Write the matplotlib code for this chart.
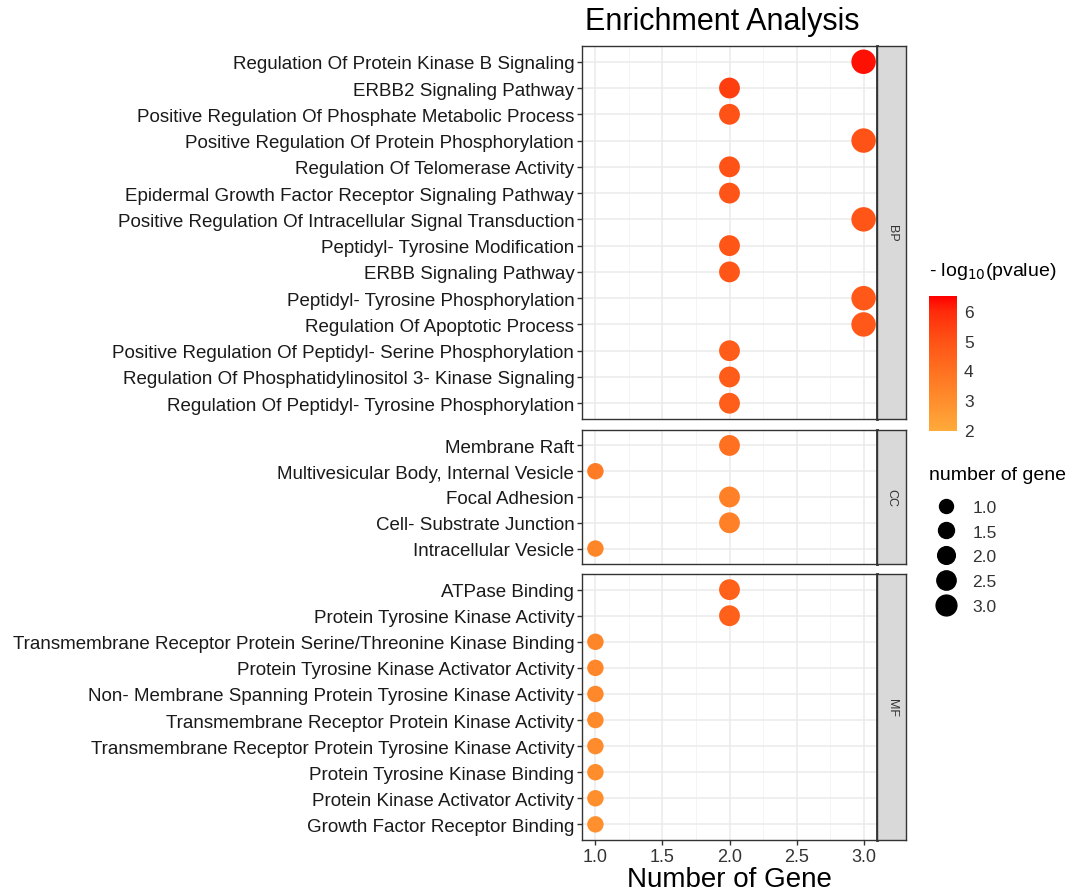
import numpy as np
import matplotlib.pyplot as plt
from matplotlib.colors import LinearSegmentedColormap, Normalize
from matplotlib.lines import Line2D

plt.rcParams["font.family"] = ["Liberation Sans", "DejaVu Sans"]

# data, top to bottom within each panel
bp_terms = [
    "Regulation Of Protein Kinase B Signaling",
    "ERBB2 Signaling Pathway",
    "Positive Regulation Of Phosphate Metabolic Process",
    "Positive Regulation Of Protein Phosphorylation",
    "Regulation Of Telomerase Activity",
    "Epidermal Growth Factor Receptor Signaling Pathway",
    "Positive Regulation Of Intracellular Signal Transduction",
    "Peptidyl- Tyrosine Modification",
    "ERBB Signaling Pathway",
    "Peptidyl- Tyrosine Phosphorylation",
    "Regulation Of Apoptotic Process",
    "Positive Regulation Of Peptidyl- Serine Phosphorylation",
    "Regulation Of Phosphatidylinositol 3- Kinase Signaling",
    "Regulation Of Peptidyl- Tyrosine Phosphorylation",
]
bp_count = [3, 2, 2, 3, 2, 2, 3, 2, 2, 3, 3, 2, 2, 2]
bp_logp = [6.3, 5.5, 5.0, 5.0, 5.0, 4.95, 4.9, 4.9, 4.85, 4.8, 4.8, 4.7, 4.7, 4.65]

cc_terms = [
    "Membrane Raft",
    "Multivesicular Body, Internal Vesicle",
    "Focal Adhesion",
    "Cell- Substrate Junction",
    "Intracellular Vesicle",
]
cc_count = [2, 1, 2, 2, 1]
cc_logp = [4.0, 3.6, 3.45, 3.45, 3.3]

mf_terms = [
    "ATPase Binding",
    "Protein Tyrosine Kinase Activity",
    "Transmembrane Receptor Protein Serine/Threonine Kinase Binding",
    "Protein Tyrosine Kinase Activator Activity",
    "Non- Membrane Spanning Protein Tyrosine Kinase Activity",
    "Transmembrane Receptor Protein Kinase Activity",
    "Transmembrane Receptor Protein Tyrosine Kinase Activity",
    "Protein Tyrosine Kinase Binding",
    "Protein Kinase Activator Activity",
    "Growth Factor Receptor Binding",
]
mf_count = [2, 2, 1, 1, 1, 1, 1, 1, 1, 1]
mf_logp = [4.5, 4.5, 3.3, 3.2, 3.15, 3.1, 3.05, 3.0, 2.95, 2.9]

panels = [("BP", bp_terms, bp_count, bp_logp),
          ("CC", cc_terms, cc_count, cc_logp),
          ("MF", mf_terms, mf_count, mf_logp)]

size_breaks = [1.0, 1.5, 2.0, 2.5, 3.0]
cbar_ticks = [2, 3, 4, 5, 6]

vmin, vmax = 1.95, 6.5
stops = [(1.95, "#FFAA3A"), (3.0, "#FF8D2C"), (4.0, "#FF7020"),
         (5.0, "#FF5216"), (6.0, "#FF2A0A"), (6.5, "#FF0000")]
cmap = LinearSegmentedColormap.from_list(
    "pv", [((v - vmin) / (vmax - vmin), c) for v, c in stops])
norm = Normalize(vmin=vmin, vmax=vmax)


def dot_size(n):
    n = np.asarray(n, dtype=float)
    return 140 + (n - 1) / 2 * 170


W, H = 1086, 895
fig = plt.figure(figsize=(W / 100, H / 100), dpi=100)

# panel pixel extents (top, bottom)
extents = [(47, 420), (431, 565), (575, 841)]
left, right, strip_r = 582, 877, 906

for (name, terms, cnt, lp), (top, bot) in zip(panels, extents):
    ax = fig.add_axes([left / W, 1 - bot / H, (right - left) / W, (bot - top) / H])
    y = np.arange(len(terms))[::-1]
    ax.scatter(cnt, y, s=dot_size(cnt), c=lp, cmap=cmap, norm=norm,
               linewidths=0, zorder=3)
    ax.set_xlim(0.9, 3.1)
    ax.set_ylim(-0.6, len(terms) - 0.4)
    ax.set_yticks(y)
    ax.set_yticklabels(terms, fontsize=13.5, color="#1a1a1a")
    ax.set_xticks([1.0, 1.5, 2.0, 2.5, 3.0])
    ax.set_xticks([1.25, 1.75, 2.25, 2.75], minor=True)
    ax.grid(True, which="major", color="#EBEBEB", lw=1.1, zorder=0)
    ax.grid(True, which="minor", axis="x", color="#F2F2F2", lw=0.6, zorder=0)
    ax.set_axisbelow(True)
    ax.tick_params(axis="both", which="major", length=3.5, width=1, color="#333333",
                   pad=2)
    ax.tick_params(axis="x", which="minor", length=0)
    for sp in ax.spines.values():
        sp.set_color("#333333")
        sp.set_linewidth(1.0)
    ax.spines["right"].set_linewidth(2.0)
    if name != "MF":
        ax.set_xticklabels([])
        ax.tick_params(axis="x", length=0)
    else:
        ax.set_xticklabels(["1.0", "1.5", "2.0", "2.5", "3.0"], fontsize=13,
                           color="#333333")
        ax.set_xlabel("Number of Gene", fontsize=20, labelpad=1)

    sax = fig.add_axes([right / W, 1 - bot / H, (strip_r - right) / W, (bot - top) / H])
    sax.set_facecolor("#D9D9D9")
    sax.set_xticks([])
    sax.set_yticks([])
    for sp in sax.spines.values():
        sp.set_color("#333333")
        sp.set_linewidth(1.0)
    sax.text(0.5, 0.5, name, rotation=-90, ha="center", va="center",
             fontsize=9, color="#333333", transform=sax.transAxes)

fig.text(722 / W, 1 - 22 / H, "Enrichment Analysis", ha="center", va="center",
         fontsize=22)

# colour bar
cax = fig.add_axes([929 / W, 1 - 432 / H, 28 / W, 135 / H])
sm = plt.cm.ScalarMappable(norm=norm, cmap=cmap)
cb = fig.colorbar(sm, cax=cax, ticks=cbar_ticks)
cb.outline.set_visible(False)
cb.ax.tick_params(length=0, labelsize=12.5, colors="#333333", pad=5)
fig.text(929 / W, 1 - 272 / H, r"- log$_{10}$(pvalue)", ha="left", va="center",
         fontsize=14)

# size legend
handles = [Line2D([], [], ls="", marker="o", color="black",
                  markersize=np.sqrt(dot_size(v)) * 0.85)
           for v in size_breaks]
leg = fig.legend(handles, [f"{v:.1f}" for v in size_breaks],
                 title="number of gene", loc="upper left",
                 bbox_to_anchor=(929 / W, 1 - 467 / H), frameon=False,
                 fontsize=12.5, title_fontsize=14, labelspacing=0.55,
                 handletextpad=0.5, borderpad=0, borderaxespad=0)
leg._legend_box.align = "left"
leg._legend_box.sep = 12
for t in leg.get_texts():
    t.set_color("#333333")

fig.savefig("out.png", dpi=100)
